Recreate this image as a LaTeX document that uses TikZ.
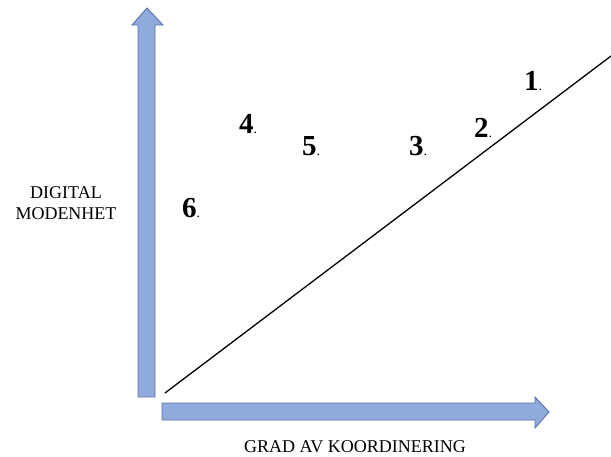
\documentclass[tikz,border=0pt]{standalone}
\usepackage{fontspec}
\setmainfont{Liberation Serif}
\definecolor{arrfill}{RGB}{143,170,220}
\definecolor{arrdraw}{RGB}{90,115,165}
\tikzset{
  bigarrow/.style={fill=arrfill, draw=arrdraw, line width=0.9pt, line join=miter},
  axislabel/.style={font=\fontsize{18}{21}\selectfont, align=center, inner sep=0pt},
  numlabel/.style={anchor=base west, inner sep=0pt, font=\fontsize{29}{29}\selectfont\bfseries}
}
\newcommand{\numdot}[1]{#1{\mdseries\fontsize{14}{14}\selectfont.}}
\begin{document}
\begin{tikzpicture}[x=1pt,y=-1pt]
\useasboundingbox (0,0) rectangle (611,456);
% vertical arrow
\draw[bigarrow] (138,397) -- (138,25) -- (132,25) -- (147,8) -- (163,25) -- (155,25) -- (155,397) -- cycle;
% horizontal arrow
\draw[bigarrow] (162,403) -- (535,403) -- (535,397) -- (549,412) -- (535,428) -- (535,420) -- (162,420) -- cycle;
% diagonal
\coordinate (d0) at (165,393);
\coordinate (d1) at (611,56);
\draw[line width=1.3pt] (d0) -- (d1);
% axis labels
\node[axislabel] (ylab) at (66,203) {DIGITAL\\MODENHET};
\node[axislabel, anchor=base] (xlab) at (355,452) {GRAD AV KOORDINERING};
% numbers
\node[numlabel] (n1) at (524,90) {\numdot{1}};
\node[numlabel] (n2) at (474,137) {\numdot{2}};
\node[numlabel] (n3) at (409,155) {\numdot{3}};
\node[numlabel] (n4) at (239,133) {\numdot{4}};
\node[numlabel] (n5) at (302,155) {\numdot{5}};
\node[numlabel] (n6) at (182,217) {\numdot{6}};
\end{tikzpicture}
\end{document}
